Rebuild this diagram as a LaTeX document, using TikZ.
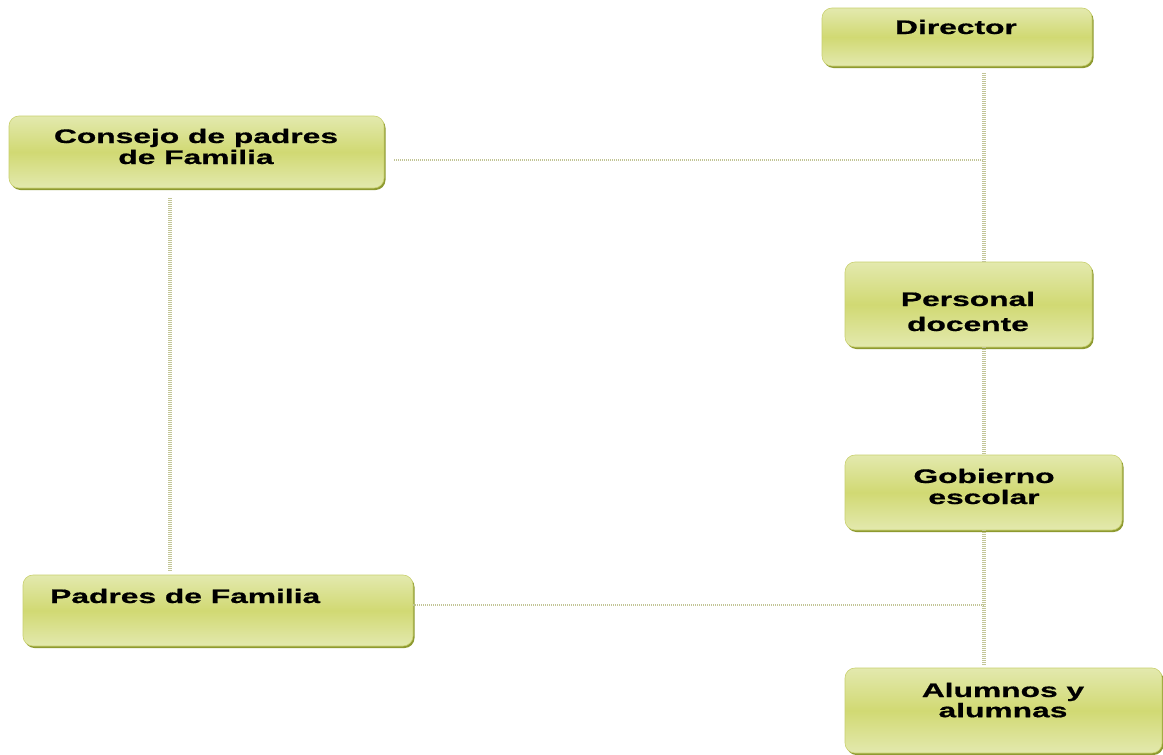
\documentclass[tikz,border=0pt]{standalone}
\usepackage{fontspec}
\setmainfont{Liberation Sans}
\newfontfamily\lblfont{Liberation Sans Bold}[FakeBold=0.6]
\usetikzlibrary{shadows}
\definecolor{boxtop}{HTML}{E3E9AE}
\definecolor{boxmid}{HTML}{D1D973}
\definecolor{boxedge}{HTML}{C9D06E}
\definecolor{shadowc}{HTML}{8E9A30}
\definecolor{linec}{HTML}{C2C596}
\newcommand{\boxlbl}[2][21]{\scalebox{1.62}[1]{\fontsize{19.6}{#1}\lblfont\begin{tabular}[t]{@{}c@{}}#2\end{tabular}}}
\begin{document}
\begin{tikzpicture}[x=1pt,y=-1pt,
  orgbox/.style={rectangle, rounded corners=10pt, draw=boxedge, line width=0.6pt,
    top color=boxtop, bottom color=boxtop, middle color=boxmid,
    drop shadow={shadow xshift=1.5pt, shadow yshift=-2pt, fill=shadowc, opacity=1},
    inner sep=0pt},
  lbl/.style={inner sep=0pt, anchor=base, text=black},
  vconn/.style={draw=linec, line width=3.2pt, dash pattern=on 1pt off 1pt},
  hconn/.style={draw=linec, line width=2.4pt, dash pattern=on 1pt off 1pt}]
\useasboundingbox[fill=white] (0,0) rectangle (1163,755);
% boxes
\node[orgbox, minimum width=270pt, minimum height=58pt] (director) at (957,37) {};
\node[orgbox, minimum width=375pt, minimum height=72pt] (consejo) at (196.5,152) {};
\node[orgbox, minimum width=247pt, minimum height=85pt] (personal) at (968.5,304.5) {};
\node[orgbox, minimum width=277pt, minimum height=75pt] (gobierno) at (983.5,492.5) {};
\node[orgbox, minimum width=390pt, minimum height=71pt] (padres) at (218,610.5) {};
\node[orgbox, minimum width=317pt, minimum height=85pt] (alumnos) at (1003.5,710.5) {};
% labels
\node[lbl] (tdirector) at (956,34) {\boxlbl{Director}};
\node[lbl] (tconsejo) at (196,143) {\boxlbl{Consejo de padres\\de Familia}};
\node[lbl] (tpersonal) at (968,306) {\boxlbl[25]{Personal\\docente}};
\node[lbl] (tgobierno) at (984,483) {\boxlbl{Gobierno\\escolar}};
\node[lbl, anchor=base west] (tpadres) at (50,603) {\boxlbl{Padres de Familia}};
\node[lbl] (talumnos) at (1003,697) {\boxlbl[20]{Alumnos y\\alumnas}};
% junctions
\coordinate (vx) at (984,0);
\coordinate (cx) at (170,0);
\coordinate (j1) at (984,160);
\coordinate (j2) at (984,605);
% connectors
\draw[vconn, shorten <=7pt] (director.south -| vx) -- (personal.north -| vx);
\draw[hconn, shorten <=10pt] (consejo.east |- j1) -- (j1);
\draw[vconn, shorten <=10pt, shorten >=3pt] (consejo.south -| cx) -- (padres.north -| cx);
\draw[vconn] (personal.south -| vx) -- (gobierno.north -| vx);
\draw[vconn, shorten >=3pt] (gobierno.south -| vx) -- (alumnos.north -| vx);
\draw[hconn] (padres.east |- j2) -- (j2);
\end{tikzpicture}
\end{document}
